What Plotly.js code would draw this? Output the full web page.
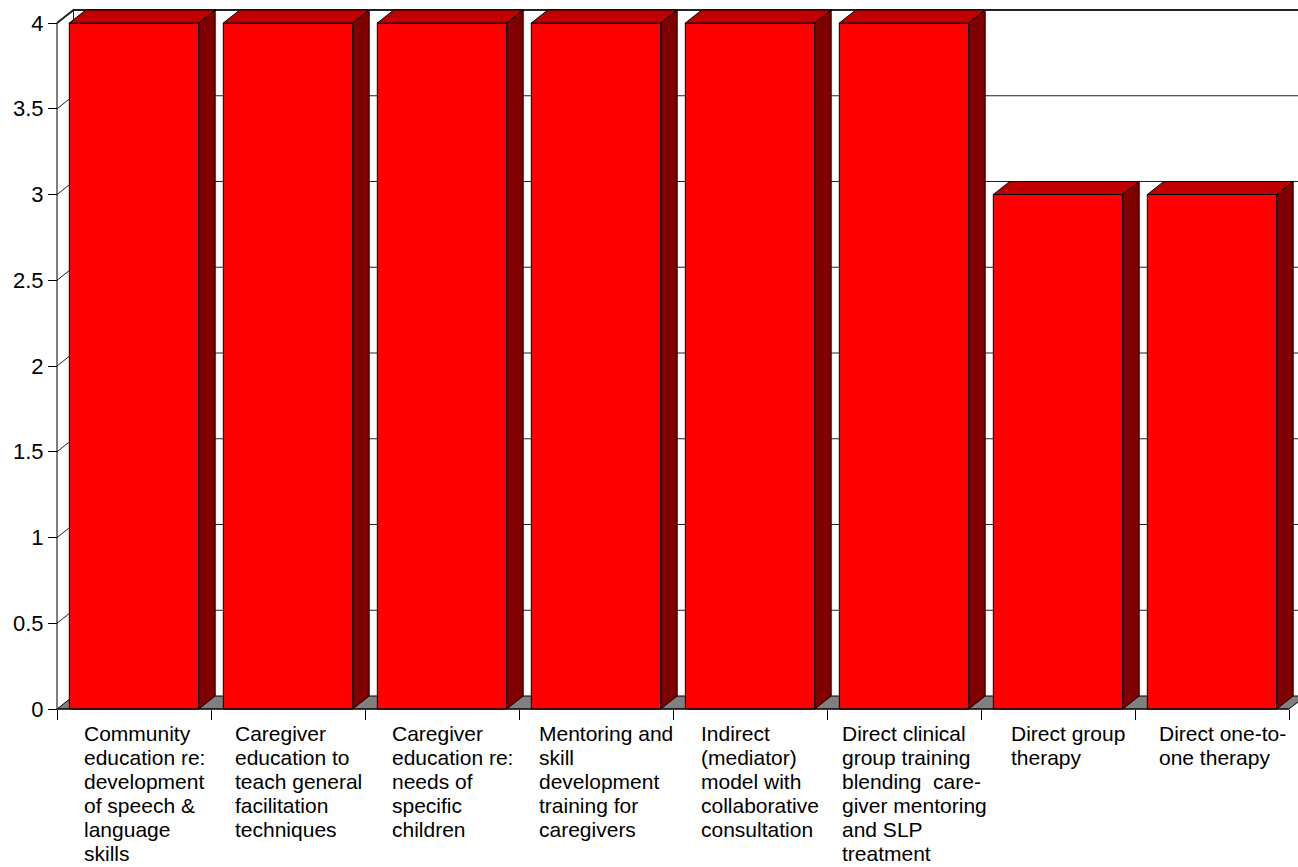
<!DOCTYPE html>
<html>
<head>
<meta charset="utf-8">
<script src="https://cdn.plot.ly/plotly-3.0.1.min.js"></script>
<style>html,body{margin:0;padding:0;background:#fff;}#chart{width:1298px;height:867px;}</style>
</head>
<body>
<div id="chart"></div>
<script>
// ---- data ----
const categories = [
  "Community education re: development of speech & language skills",
  "Caregiver education to teach general facilitation techniques",
  "Caregiver education re: needs of specific children",
  "Mentoring and skill development training for caregivers",
  "Indirect (mediator) model with collaborative consultation",
  "Direct clinical group training blending care-giver mentoring and SLP treatment",
  "Direct group therapy",
  "Direct one-to-one therapy"
];
const values = [4, 4, 4, 4, 4, 4, 3, 3];
const tickLabelLines = [
  ["Community", "education re:", "development", "of speech &", "language", "skills"],
  ["Caregiver", "education to", "teach general", "facilitation", "techniques"],
  ["Caregiver", "education re:", "needs of", "specific", "children"],
  ["Mentoring and", "skill", "development", "training for", "caregivers"],
  ["Indirect", "(mediator)", "model with", "collaborative", "consultation"],
  ["Direct clinical", "group training", "blending\u00a0 care-", "giver mentoring", "and SLP", "treatment"],
  ["Direct group", "therapy"],
  ["Direct one-to-", "one therapy"]
];
const yTickValues = [0, 0.5, 1, 1.5, 2, 2.5, 3, 3.5, 4];

// ---- layout geometry (pixels) ----
const W = 1298, H = 867;
const M = {l: 50, r: 0, t: 4, b: 150};
const pw = W - M.l - M.r, ph = H - M.t - M.b;
const pxPerCat = 154, pxPerUnit = 171.5;
const axisLeftPx = 57, baselinePx = 709;
const xMin = -0.5 - (axisLeftPx - M.l) / pxPerCat;
const xMax = xMin + pw / pxPerCat;
const yMin = -((H - M.b) - baselinePx) / pxPerUnit;
const yMax = yMin + ph / pxPerUnit;
const DX = 16.5 / pxPerCat;   // depth offset in category units
const DY = 13 / pxPerUnit;    // depth offset in value units
const BAR_W = 0.84;
const N = categories.length;
const xIdx = categories.map((_, i) => i);

// ---- 3D faces built from values ----
const sideX = [], sideY = [], topX = [], topY = [];
values.forEach((v, i) => {
  const r = i + BAR_W / 2, l = i - BAR_W / 2;
  sideX.push(r, r + DX, r + DX, r, r, null);
  sideY.push(0, DY, v + DY, v, 0, null);
  topX.push(l, l + DX, r + DX, r, l, null);
  topY.push(v, v + DY, v + DY, v, v, null);
});

const traces = [
  {
    type: 'bar', x: xIdx, y: values, width: BAR_W,
    text: categories, hoverinfo: 'text+y', textposition: 'none',
    marker: {color: '#FF0000', line: {color: '#000', width: 1}},
    showlegend: false
  },
  {
    type: 'scatter', mode: 'lines', x: sideX, y: sideY, fill: 'toself',
    fillcolor: '#800000', line: {color: '#000', width: 1},
    hoverinfo: 'skip', showlegend: false
  },
  {
    type: 'scatter', mode: 'lines', x: topX, y: topY, fill: 'toself',
    fillcolor: '#C00000', line: {color: '#000', width: 1},
    hoverinfo: 'skip', showlegend: false
  }
];

// ---- walls, gridlines, floor ----
const shapes = [];
const xL = -0.5, xR = N - 0.5;
yTickValues.forEach(v => {
  if (v === 0) return;
  shapes.push({type: 'path', xref: 'x', yref: 'y', layer: 'below',
    path: `M${xL},${v} L${xL + DX},${v + DY} L${xMax},${v + DY}`,
    line: {color: '#222', width: v === 4 ? 2 : 1}});
});
// back wall left edge
shapes.push({type: 'line', xref: 'x', yref: 'y', layer: 'below',
  x0: xL + DX, y0: DY, x1: xL + DX, y1: 4 + DY, line: {color: '#222', width: 1}});
// floor
shapes.push({type: 'path', xref: 'x', yref: 'y', layer: 'below',
  path: `M${xL},0 L${xR},0 L${xR + DX},${DY} L${xL + DX},${DY} Z`,
  fillcolor: '#808080', line: {color: '#000', width: 1}});
// front value axis line
shapes.push({type: 'line', xref: 'x', yref: 'y', layer: 'above',
  x0: xL, y0: 0, x1: xL, y1: 4, line: {color: '#000', width: 1}});
// front category axis line
shapes.push({type: 'line', xref: 'x', yref: 'y', layer: 'above',
  x0: xL, y0: 0, x1: xR, y1: 0, line: {color: '#000', width: 1}});

// ---- category labels (left-aligned lines, block centred under bar) ----
const FONT = "'Liberation Sans', Arial, sans-serif";
const LABEL_SIZE = 21;
const ctx = document.createElement('canvas').getContext('2d');
ctx.font = LABEL_SIZE + "px 'Liberation Sans', Arial, sans-serif";
const annotations = [];
tickLabelLines.forEach((lines, i) => {
  const bw = Math.max(...lines.map(s => ctx.measureText(s).width));
  lines.forEach((s, k) => {
    annotations.push({
      xref: 'x', yref: 'y', x: i + DX / 2, y: 0,
      xanchor: 'left', yanchor: 'top',
      xshift: -bw / 2, yshift: -(11 + 24 * k),
      text: s, showarrow: false, align: 'left',
      font: {family: FONT, size: LABEL_SIZE, color: '#000'}
    });
  });
});

const layout = {
  width: W, height: H,
  margin: M,
  paper_bgcolor: '#fff', plot_bgcolor: '#fff',
  showlegend: false,
  font: {family: FONT, color: '#000'},
  xaxis: {
    range: [xMin, xMax], anchor: 'free', position: (((H - M.b) - baselinePx) / ph),
    tickmode: 'array', tickvals: Array.from({length: N + 1}, (_, i) => i - 0.5),
    ticks: 'outside', ticklen: 10, tickcolor: '#000', tickwidth: 1,
    showticklabels: false, showgrid: false, zeroline: false, showline: false,
    fixedrange: true
  },
  yaxis: {
    range: [yMin, yMax], anchor: 'free', position: (axisLeftPx - M.l) / pw,
    tickmode: 'array', tickvals: yTickValues,
    ticktext: yTickValues.map(v => String(v)),
    ticks: 'outside', ticklen: 9, tickcolor: '#000', tickwidth: 1,
    tickfont: {family: FONT, size: 22, color: '#000'},
    showgrid: false, zeroline: false, showline: false, fixedrange: true
  },
  shapes: shapes,
  annotations: annotations
};

Plotly.newPlot('chart', traces, layout, {displayModeBar: false, responsive: false});
</script>
</body>
</html>
